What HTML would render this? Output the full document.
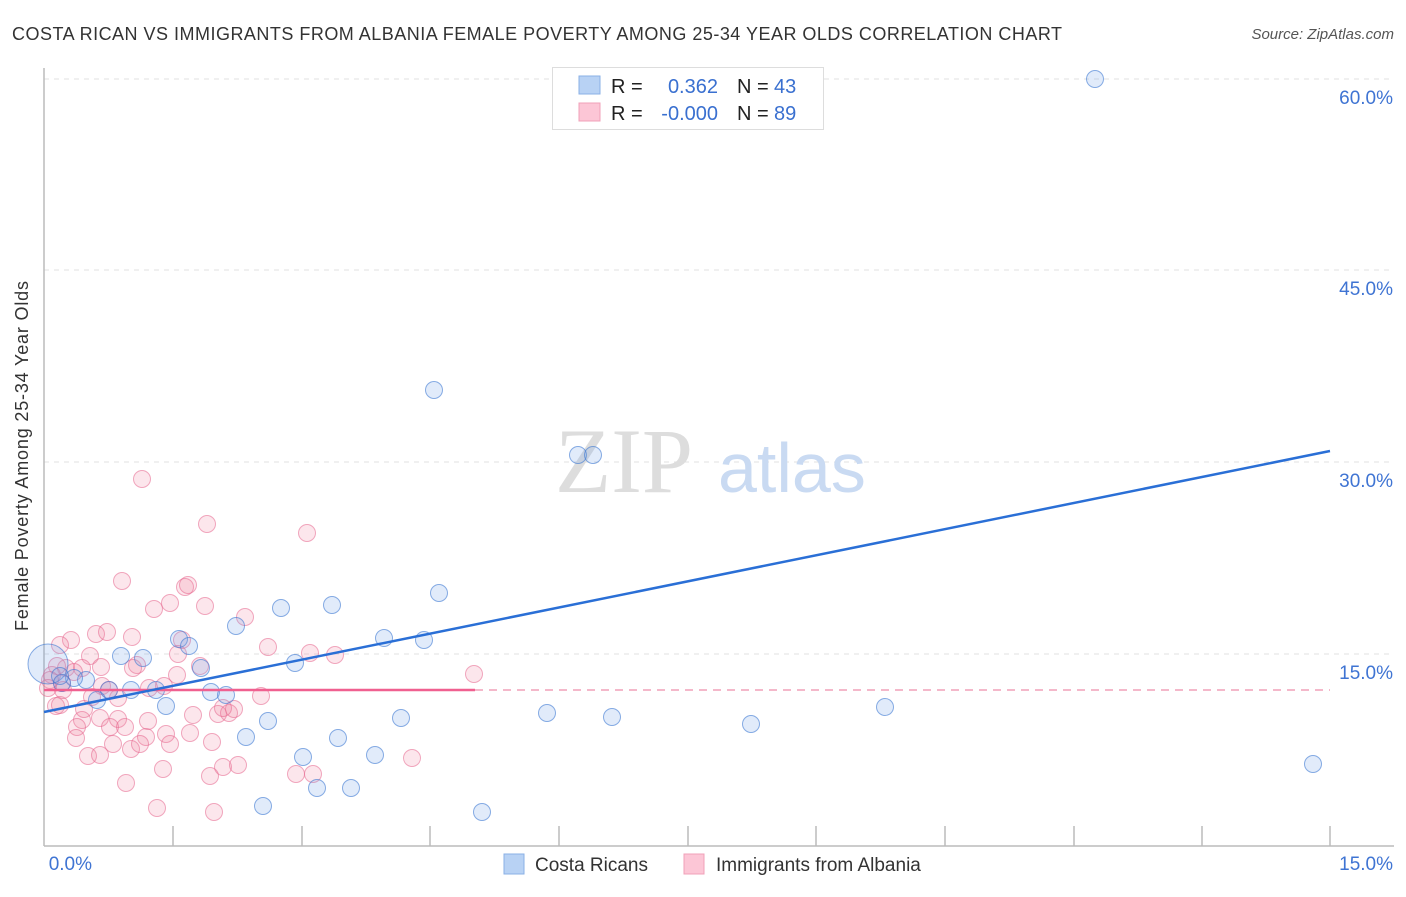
<!DOCTYPE html>
<html><head><meta charset="utf-8"><style>
body{margin:0;background:#fff;font-family:"Liberation Sans",sans-serif}
</style></head><body>
<svg width="1406" height="892" xmlns="http://www.w3.org/2000/svg" font-family="Liberation Sans, sans-serif">
<text x="12" y="40" font-size="18" fill="#333" textLength="1050" lengthAdjust="spacing">COSTA RICAN VS IMMIGRANTS FROM ALBANIA FEMALE POVERTY AMONG 25-34 YEAR OLDS CORRELATION CHART</text>
<text x="1394" y="39" font-size="15" fill="#555" text-anchor="end" font-style="italic">Source: ZipAtlas.com</text>
<g stroke="#e0e0e0" stroke-dasharray="5,5" stroke-width="1">
<line x1="44" y1="79" x2="1394" y2="79"/><line x1="44" y1="270" x2="1394" y2="270"/>
<line x1="44" y1="462" x2="1394" y2="462"/><line x1="44" y1="654" x2="1394" y2="654"/>
</g>
<g fill="#3f74d3" font-size="19" text-anchor="end">
<text x="1393" y="104">60.0%</text><text x="1393" y="295">45.0%</text>
<text x="1393" y="487">30.0%</text><text x="1393" y="679">15.0%</text>
<text x="92" y="870">0.0%</text><text x="1393" y="870">15.0%</text>
</g>
<line x1="44" y1="68" x2="44" y2="846" stroke="#bbb" stroke-width="1.5"/>
<line x1="44" y1="846" x2="1394" y2="846" stroke="#bbb" stroke-width="1.5"/>
<g stroke="#bbb" stroke-width="1.5">
<line x1="173" y1="826" x2="173" y2="846"/><line x1="302" y1="826" x2="302" y2="846"/><line x1="430" y1="826" x2="430" y2="846"/><line x1="559" y1="826" x2="559" y2="846"/><line x1="688" y1="826" x2="688" y2="846"/><line x1="816" y1="826" x2="816" y2="846"/><line x1="945" y1="826" x2="945" y2="846"/><line x1="1074" y1="826" x2="1074" y2="846"/><line x1="1202" y1="826" x2="1202" y2="846"/><line x1="1330" y1="826" x2="1330" y2="846"/>
</g>
<text x="28" y="456" font-size="18" fill="#333" text-anchor="middle" textLength="350" lengthAdjust="spacing" transform="rotate(-90 28 456)">Female Poverty Among 25-34 Year Olds</text>
<text x="555" y="492" font-size="92" fill="#ddd" font-family="Liberation Serif, serif">ZIP</text>
<text x="718" y="492" font-size="70" fill="#c9daf2">atlas</text>
<g fill="rgba(240,130,160,0.2)" stroke="rgba(230,100,140,0.55)" stroke-width="1">
<circle cx="142" cy="479" r="8.5"/><circle cx="207" cy="524" r="8.5"/><circle cx="307" cy="533" r="8.5"/><circle cx="122" cy="581" r="8.5"/><circle cx="185" cy="587" r="8.5"/><circle cx="188" cy="585" r="8.5"/><circle cx="205" cy="606" r="8.5"/><circle cx="154" cy="609" r="8.5"/><circle cx="170" cy="603" r="8.5"/><circle cx="245" cy="617" r="8.5"/><circle cx="71" cy="640" r="8.5"/><circle cx="96" cy="634" r="8.5"/><circle cx="107" cy="632" r="8.5"/><circle cx="132" cy="637" r="8.5"/><circle cx="182" cy="640" r="8.5"/><circle cx="268" cy="647" r="8.5"/><circle cx="310" cy="653" r="8.5"/><circle cx="335" cy="655" r="8.5"/><circle cx="90" cy="656" r="8.5"/><circle cx="137" cy="665" r="8.5"/><circle cx="133" cy="668" r="8.5"/><circle cx="178" cy="654" r="8.5"/><circle cx="200" cy="666" r="8.5"/><circle cx="177" cy="675" r="8.5"/><circle cx="66" cy="668" r="8.5"/><circle cx="82" cy="668" r="8.5"/><circle cx="74" cy="672" r="8.5"/><circle cx="57" cy="666" r="8.5"/><circle cx="52" cy="675" r="8.5"/><circle cx="62" cy="683" r="8.5"/><circle cx="102" cy="686" r="8.5"/><circle cx="118" cy="698" r="8.5"/><circle cx="164" cy="686" r="8.5"/><circle cx="109" cy="690" r="8.5"/><circle cx="149" cy="688" r="8.5"/><circle cx="474" cy="674" r="8.5"/><circle cx="261" cy="696" r="8.5"/><circle cx="56" cy="706" r="8.5"/><circle cx="60" cy="705" r="8.5"/><circle cx="100" cy="718" r="8.5"/><circle cx="118" cy="719" r="8.5"/><circle cx="82" cy="720" r="8.5"/><circle cx="77" cy="727" r="8.5"/><circle cx="148" cy="721" r="8.5"/><circle cx="110" cy="727" r="8.5"/><circle cx="125" cy="727" r="8.5"/><circle cx="193" cy="715" r="8.5"/><circle cx="218" cy="714" r="8.5"/><circle cx="229" cy="713" r="8.5"/><circle cx="234" cy="709" r="8.5"/><circle cx="223" cy="708" r="8.5"/><circle cx="84" cy="709" r="8.5"/><circle cx="76" cy="738" r="8.5"/><circle cx="113" cy="744" r="8.5"/><circle cx="131" cy="749" r="8.5"/><circle cx="146" cy="737" r="8.5"/><circle cx="166" cy="734" r="8.5"/><circle cx="190" cy="733" r="8.5"/><circle cx="140" cy="744" r="8.5"/><circle cx="170" cy="744" r="8.5"/><circle cx="88" cy="756" r="8.5"/><circle cx="100" cy="755" r="8.5"/><circle cx="212" cy="742" r="8.5"/><circle cx="223" cy="767" r="8.5"/><circle cx="238" cy="765" r="8.5"/><circle cx="163" cy="769" r="8.5"/><circle cx="126" cy="783" r="8.5"/><circle cx="296" cy="774" r="8.5"/><circle cx="313" cy="774" r="8.5"/><circle cx="412" cy="758" r="8.5"/><circle cx="157" cy="808" r="8.5"/><circle cx="214" cy="812" r="8.5"/><circle cx="50" cy="680" r="8.5"/><circle cx="48" cy="688" r="8.5"/><circle cx="210" cy="776" r="8.5"/><circle cx="63" cy="690" r="8.5"/><circle cx="92" cy="697" r="8.5"/><circle cx="60" cy="645" r="8.5"/><circle cx="101" cy="667" r="8.5"/>
</g>
<g fill="rgba(120,165,230,0.22)" stroke="rgba(60,120,210,0.6)" stroke-width="1">
<circle cx="48" cy="664" r="20"/>
<circle cx="1095" cy="79" r="8.5"/><circle cx="434" cy="390" r="8.5"/><circle cx="578" cy="455" r="8.5"/><circle cx="593" cy="455" r="8.5"/><circle cx="439" cy="593" r="8.5"/><circle cx="332" cy="605" r="8.5"/><circle cx="281" cy="608" r="8.5"/><circle cx="236" cy="626" r="8.5"/><circle cx="384" cy="638" r="8.5"/><circle cx="424" cy="640" r="8.5"/><circle cx="179" cy="639" r="8.5"/><circle cx="189" cy="646" r="8.5"/><circle cx="121" cy="656" r="8.5"/><circle cx="143" cy="658" r="8.5"/><circle cx="201" cy="668" r="8.5"/><circle cx="295" cy="663" r="8.5"/><circle cx="86" cy="680" r="8.5"/><circle cx="74" cy="678" r="8.5"/><circle cx="62" cy="683" r="8.5"/><circle cx="109" cy="690" r="8.5"/><circle cx="131" cy="690" r="8.5"/><circle cx="156" cy="690" r="8.5"/><circle cx="211" cy="692" r="8.5"/><circle cx="226" cy="695" r="8.5"/><circle cx="166" cy="706" r="8.5"/><circle cx="547" cy="713" r="8.5"/><circle cx="612" cy="717" r="8.5"/><circle cx="401" cy="718" r="8.5"/><circle cx="268" cy="721" r="8.5"/><circle cx="885" cy="707" r="8.5"/><circle cx="751" cy="724" r="8.5"/><circle cx="246" cy="737" r="8.5"/><circle cx="338" cy="738" r="8.5"/><circle cx="303" cy="757" r="8.5"/><circle cx="375" cy="755" r="8.5"/><circle cx="317" cy="788" r="8.5"/><circle cx="351" cy="788" r="8.5"/><circle cx="263" cy="806" r="8.5"/><circle cx="482" cy="812" r="8.5"/><circle cx="1313" cy="764" r="8.5"/><circle cx="97" cy="700" r="8.5"/><circle cx="60" cy="676" r="8.5"/>
</g>
<line x1="44" y1="690" x2="475" y2="690" stroke="#f06090" stroke-width="2.5"/>
<line x1="475" y1="690" x2="1330" y2="690" stroke="#f0a0b8" stroke-width="1.5" stroke-dasharray="8,6"/>
<line x1="44" y1="712" x2="1330" y2="451" stroke="#2a6fd6" stroke-width="2.5"/>
<rect x="552.5" y="67.5" width="271" height="62" fill="#fff" stroke="#ddd"/>
<rect x="579" y="76" width="21" height="18" fill="#b8d2f4" stroke="#8ab0e6"/>
<rect x="579" y="103" width="21" height="18" fill="#fcc6d6" stroke="#f0a0b8"/>
<g font-size="20">
<text x="611" y="93" fill="#222">R =</text><text x="718" y="93" fill="#3a70d0" text-anchor="end">0.362</text>
<text x="737" y="93" fill="#222">N =</text><text x="774" y="93" fill="#3a70d0">43</text>
<text x="611" y="120" fill="#222">R =</text><text x="718" y="120" fill="#3a70d0" text-anchor="end">-0.000</text>
<text x="737" y="120" fill="#222">N =</text><text x="774" y="120" fill="#3a70d0">89</text>
</g>
<rect x="504" y="854" width="20" height="20" fill="#b8d2f4" stroke="#8ab0e6"/>
<text x="535" y="871" font-size="19" fill="#333">Costa Ricans</text>
<rect x="684" y="854" width="20" height="20" fill="#fcc6d6" stroke="#f0a0b8"/>
<text x="716" y="871" font-size="19" fill="#333">Immigrants from Albania</text>
</svg>
</body></html>
